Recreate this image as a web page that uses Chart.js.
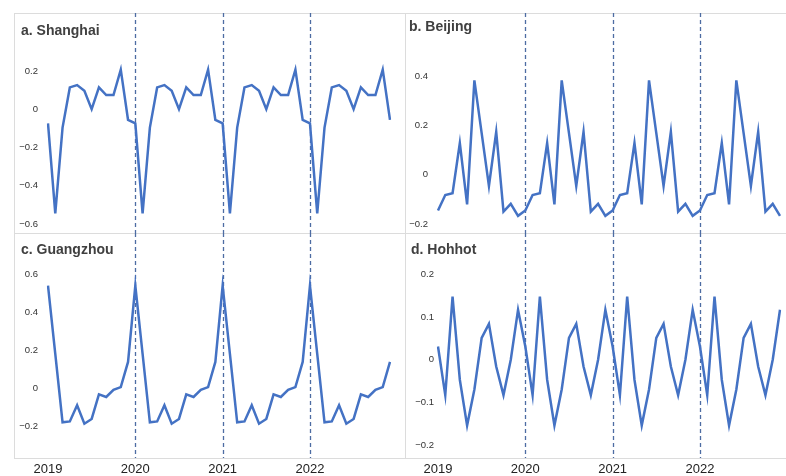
<!DOCTYPE html>
<html>
<head>
<meta charset="utf-8">
<script src="https://cdn.jsdelivr.net/npm/chart.js@4.4.0/dist/chart.umd.min.js"></script>
<style>
  body { margin: 0; background: #fff; width: 786px; height: 476px; overflow: hidden; position: relative; font-family: "Liberation Sans", Arial, sans-serif; }
  .rule { position: absolute; background: #dcdcdc; }
  .panel { position: absolute; }
  .ttl { position: absolute; font-weight: bold; font-size: 14px; line-height: 14px; color: #404040; white-space: nowrap; }
</style>
</head>
<body>
<div class="rule" style="left:14px;top:13px;width:772px;height:1px"></div>
<div class="rule" style="left:14px;top:233px;width:772px;height:1px"></div>
<div class="rule" style="left:14px;top:458px;width:772px;height:1px"></div>
<div class="rule" style="left:14px;top:13px;width:1px;height:446px"></div>
<div class="rule" style="left:405px;top:13px;width:1px;height:446px"></div>

<canvas id="shChart" class="panel" width="391" height="220" style="left:14px;top:13px"></canvas>
<canvas id="bjChart" class="panel" width="381" height="220" style="left:405px;top:13px"></canvas>
<canvas id="gzChart" class="panel" width="391" height="243" style="left:14px;top:233px"></canvas>
<canvas id="hhChart" class="panel" width="381" height="243" style="left:405px;top:233px"></canvas>

<div class="ttl" style="left:21px;top:23px">a. Shanghai</div>
<div class="ttl" style="left:409px;top:19px">b. Beijing</div>
<div class="ttl" style="left:21px;top:242px">c. Guangzhou</div>
<div class="ttl" style="left:411px;top:242px">d. Hohhot</div>

<script>
const years = ['2019', '2020', '2021', '2022'];
const months = ['01', '02', '03', '04', '05', '06', '07', '08', '09', '10', '11', '12'];
const monthLabels = years.flatMap(y => months.map(m => y + '-' + m));

// seasonal component, one value per month 2019-01 .. 2022-12
const shanghai = [
  -0.074, -0.544, -0.096, 0.114, 0.126, 0.096, 0.0, 0.114, 0.074, 0.074, 0.207, -0.056,
  -0.074, -0.544, -0.096, 0.114, 0.126, 0.096, 0.0, 0.114, 0.074, 0.074, 0.207, -0.056,
  -0.074, -0.544, -0.096, 0.114, 0.126, 0.096, 0.0, 0.114, 0.074, 0.074, 0.207, -0.056,
  -0.074, -0.544, -0.096, 0.114, 0.126, 0.096, 0.0, 0.114, 0.074, 0.074, 0.207, -0.056
];
const beijing = [
  -0.145, -0.082, -0.075, 0.13, -0.12, 0.385, 0.17, -0.045, 0.175, -0.15, -0.118, -0.167,
  -0.145, -0.082, -0.075, 0.13, -0.12, 0.385, 0.17, -0.045, 0.175, -0.15, -0.118, -0.167,
  -0.145, -0.082, -0.075, 0.13, -0.12, 0.385, 0.17, -0.045, 0.175, -0.15, -0.118, -0.167,
  -0.145, -0.082, -0.075, 0.13, -0.12, 0.385, 0.17, -0.045, 0.175, -0.15, -0.118, -0.167
];
const guangzhou = [
  0.54, 0.18, -0.181, -0.176, -0.091, -0.188, -0.163, -0.033, -0.047, -0.009, 0.005, 0.138,
  0.54, 0.18, -0.181, -0.176, -0.091, -0.188, -0.163, -0.033, -0.047, -0.009, 0.005, 0.138,
  0.54, 0.18, -0.181, -0.176, -0.091, -0.188, -0.163, -0.033, -0.047, -0.009, 0.005, 0.138,
  0.54, 0.18, -0.181, -0.176, -0.091, -0.188, -0.163, -0.033, -0.047, -0.009, 0.005, 0.138
];
const hohhot = [
  0.031, -0.083, 0.148, -0.047, -0.154, -0.07, 0.051, 0.084, -0.016, -0.083, 0.0, 0.117,
  0.031, -0.083, 0.148, -0.047, -0.154, -0.07, 0.051, 0.084, -0.016, -0.083, 0.0, 0.117,
  0.031, -0.083, 0.148, -0.047, -0.154, -0.07, 0.051, 0.084, -0.016, -0.083, 0.0, 0.117,
  0.031, -0.083, 0.148, -0.047, -0.154, -0.07, 0.051, 0.084, -0.016, -0.083, 0.0, 0.117
];

const shTicks = [-0.6, -0.4, -0.2, 0, 0.2];
const bjTicks = [-0.2, 0, 0.2, 0.4];
const gzTicks = [-0.2, 0, 0.2, 0.4, 0.6];
const hhTicks = [-0.2, -0.1, 0, 0.1, 0.2];

const lineColor = '#4472c4';

// dashed marker at the start of each new year
const yearLines = {
  id: 'yearLines',
  beforeDatasetsDraw(chart) {
    const { ctx, chartArea, scales } = chart;
    ctx.save();
    ctx.strokeStyle = '#4d6ca3';
    ctx.lineWidth = 1.3;
    ctx.setLineDash([4, 3]);
    monthLabels.forEach((lab, i) => {
      if (i === 0 || !lab.endsWith('-01')) return;
      const px = Math.round(scales.x.getPixelForValue(i)) + 0.5;
      ctx.beginPath();
      ctx.moveTo(px, chartArea.top);
      ctx.lineTo(px, chartArea.bottom);
      ctx.stroke();
    });
    ctx.restore();
  }
};

function fmt(v) {
  if (v === 0) return '0';
  return v.toFixed(1).replace('-', '\u2212');
}

function createPanel(id, values, yMin, yMax, yTicks, axisWidth, rightPad, tickPad, showX) {
  return new Chart(document.getElementById(id).getContext('2d'), {
    type: 'line',
    data: {
      labels: monthLabels,
      datasets: [{
        data: values,
        borderColor: lineColor,
        borderWidth: 2.5,
        pointRadius: 0,
        tension: 0,
        fill: false
      }]
    },
    options: {
      responsive: false,
      animation: false,
      events: [],
      layout: { padding: { left: 0, right: rightPad, top: 0, bottom: 0 } },
      plugins: { legend: { display: false }, tooltip: { enabled: false } },
      scales: {
        x: {
          display: showX,
          grid: { display: false, drawTicks: false },
          border: { display: false },
          ticks: {
            autoSkip: false,
            maxRotation: 0,
            padding: 4,
            color: '#222',
            font: { family: 'Liberation Sans', size: 13 },
            callback: function (v) { return this.getLabelForValue(v).slice(0, 4); }
          },
          afterBuildTicks: s => { s.ticks = s.ticks.filter(t => monthLabels[t.value].endsWith('-01')); },
          afterFit: s => {
            s.height = showX ? 18 : 0;
            s.paddingLeft = 0;
            s.paddingRight = 0;
          }
        },
        y: {
          min: yMin,
          max: yMax,
          grid: { display: false, drawTicks: false },
          border: { display: false },
          ticks: {
            padding: tickPad,
            color: '#333',
            font: { family: 'Liberation Sans', size: 9.5 },
            callback: v => fmt(v)
          },
          afterBuildTicks: s => { s.ticks = yTicks.map(v => ({ value: v })); },
          afterFit: s => { s.width = axisWidth; s.paddingTop = 0; s.paddingBottom = 0; }
        }
      }
    },
    plugins: [yearLines]
  });
}

createPanel('shChart', shanghai, -0.647, 0.503, shTicks, 34, 15, 10, false);
createPanel('bjChart', beijing, -0.237, 0.66, bjTicks, 33, 6, 10, false);
createPanel('gzChart', guangzhou, -0.369, 0.818, gzTicks, 34, 15, 10, true);
createPanel('hhChart', hohhot, -0.2305, 0.297, hhTicks, 33, 6, 4, true);
</script>
</body>
</html>
